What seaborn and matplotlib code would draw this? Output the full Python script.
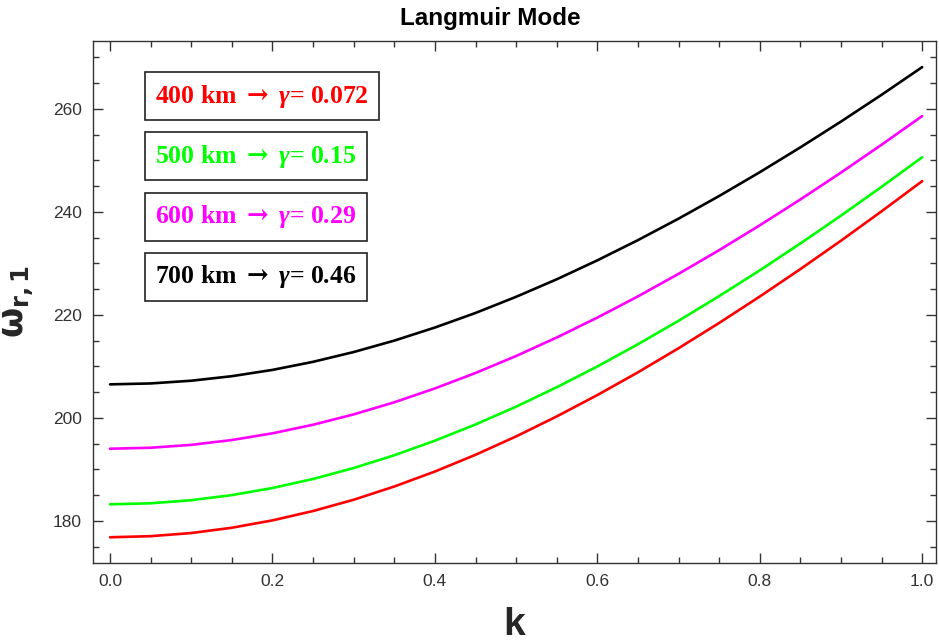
import numpy as np
import pandas as pd
import matplotlib
matplotlib.use("Agg")
import matplotlib.pyplot as plt
from matplotlib.ticker import MultipleLocator
import seaborn as sns

k_values = [0.00, 0.05, 0.10, 0.15, 0.20, 0.25, 0.30, 0.35, 0.40, 0.45, 0.50,
            0.55, 0.60, 0.65, 0.70, 0.75, 0.80, 0.85, 0.90, 0.95, 1.00]

omega_400 = [176.80, 177.01, 177.62, 178.65, 180.08, 181.90, 184.09, 186.66, 189.57, 192.82, 196.39,
             200.27, 204.42, 208.84, 213.52, 218.43, 223.56, 228.89, 234.41, 240.12, 245.98]
omega_500 = [183.20, 183.40, 184.00, 184.99, 186.37, 188.12, 190.25, 192.73, 195.56, 198.71, 202.17,
             205.94, 209.98, 214.29, 218.85, 223.64, 228.65, 233.87, 239.28, 244.87, 250.62]
omega_600 = [194.00, 194.19, 194.75, 195.69, 196.99, 198.66, 200.67, 203.02, 205.71, 208.71, 212.01,
             215.60, 219.47, 223.59, 227.97, 232.57, 237.39, 242.42, 247.64, 253.05, 258.62]
omega_700 = [206.50, 206.68, 207.21, 208.09, 209.31, 210.88, 212.78, 215.00, 217.54, 220.37, 223.51,
             226.91, 230.59, 234.52, 238.69, 243.09, 247.71, 252.54, 257.55, 262.75, 268.13]

series_names = ["400 km", "500 km", "600 km", "700 km"]
gamma_labels = ["0.072", "0.15", "0.29", "0.46"]
series_colors = ["#ff0000", "#00ff00", "#ff00ff", "#000000"]

df = pd.concat([
    pd.DataFrame({"k": k_values, "omega": vals, "series": name})
    for name, vals in zip(series_names, [omega_400, omega_500, omega_600, omega_700])
], ignore_index=True)

sns.set_style("ticks")
plt.rcParams["mathtext.fontset"] = "custom"
plt.rcParams["mathtext.it"] = "Liberation Serif:italic:bold"
plt.rcParams["mathtext.bf"] = "DejaVu Sans:bold"
plt.rcParams["mathtext.rm"] = "DejaVu Serif:bold"
plt.rcParams["text.color"] = "black"

fig = plt.figure(figsize=(9.39, 6.44), dpi=100)
ax = fig.add_axes([93/939, 1 - 563/644, (936 - 93)/939, (563 - 41)/644])

sns.lineplot(data=df, x="k", y="omega", hue="series", palette=series_colors,
             linewidth=1.9, legend=False, ax=ax)

ax.set_xlim(-0.021, 1.017)
ax.set_ylim(171.8, 273.2)
ax.xaxis.set_major_locator(MultipleLocator(0.2))
ax.xaxis.set_minor_locator(MultipleLocator(0.05))
ax.yaxis.set_major_locator(MultipleLocator(20))
ax.yaxis.set_minor_locator(MultipleLocator(5))
ax.xaxis.set_major_formatter(matplotlib.ticker.FormatStrFormatter("%.1f"))

ax.tick_params(which="both", direction="in", top=True, right=True, color="#333333", width=1.0)
ax.tick_params(which="major", length=7, labelsize=12.5, labelcolor="#333333", pad=8)
ax.tick_params(which="minor", length=4)
for lab in ax.get_xticklabels() + ax.get_yticklabels():
    lab.set_family("Liberation Sans")
for sp in ax.spines.values():
    sp.set_color("#333333")
    sp.set_linewidth(1.0)

ax.set_xlabel("k", fontsize=28, fontweight="bold", family="Liberation Sans", labelpad=13)
ax.set_ylabel(r"$\mathbf{\omega_{r,1}}$", fontsize=25, labelpad=12)

fig.text(490/939, 1 - 18/644, "Langmuir Mode", ha="center", va="center",
         fontsize=17.5, fontweight="bold", family="Liberation Sans")

box_tops = [71, 131, 192, 252]
for name, g, col, top in zip(series_names, gamma_labels, series_colors, box_tops):
    yc = 1 - (top + 25 - 41) / (563 - 41)
    ax.text((155 - 93) / (936 - 93), yc, f"{name} $\\rightarrow$ $\\gamma$= {g}", transform=ax.transAxes,
            ha="left", va="center", color=col, fontsize=18.5, fontweight="bold",
            family="Liberation Serif",
            bbox=dict(boxstyle="square,pad=0.40", facecolor="white", edgecolor="#222222", linewidth=1.2))

fig.savefig("out.png", dpi=100)
